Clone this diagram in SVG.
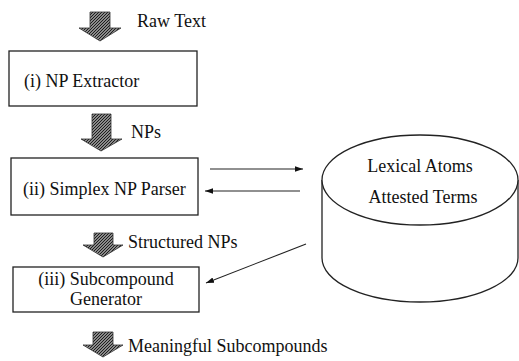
<svg xmlns="http://www.w3.org/2000/svg" width="519" height="361" viewBox="0 0 519 361">
<style>
text{font-family:'Liberation Serif','Times New Roman',Times,serif;font-size:18px;fill:#111}
.box{fill:#fff;stroke:#222;stroke-width:1.3}
.blk{fill:url(#hatch);stroke:#333;stroke-width:0.8}
.con{stroke:#222;stroke-width:1.1;fill:none}
</style>
<defs>
<pattern id="hatch" width="3" height="3" patternUnits="userSpaceOnUse">
<rect width="3" height="3" fill="#8a8a8a"/>
<path d="M0,3 L3,0 M-1,1 L1,-1 M2,4 L4,2" stroke="#111" stroke-width="0.9"/>
</pattern>
<marker id="ah" viewBox="0 0 10 10" refX="10" refY="5" markerWidth="8" markerHeight="8" markerUnits="userSpaceOnUse" orient="auto">
<path d="M0,1.5 L10,5 L0,8.5 Z" fill="#111"/>
</marker>
</defs>
<g id="flow1">
<path class="blk" d="M90,12 H110 V28 H121 L100,41 L79,28 H90 Z"/>
<text x="137" y="27" font-family="Liberation Serif, serif">Raw Text</text>
</g>
<g id="n1">
<rect class="box" x="9" y="51" width="188" height="55"/>
<text x="24" y="87">(i) NP Extractor</text>
</g>
<g id="flow2">
<path class="blk" d="M92,114 H111 V139 H122 L101,151 L81,139 H92 Z"/>
<text x="131" y="138">NPs</text>
</g>
<g id="n2">
<rect class="box" x="11" y="158" width="187" height="57"/>
<text x="23" y="195">(ii) Simplex NP Parser</text>
</g>
<g id="flow3">
<path class="blk" d="M94,233 H113 V245 H123 L103,257 L83,245 H94 Z"/>
<text x="128" y="248">Structured NPs</text>
</g>
<g id="n3">
<rect class="box" x="13" y="267" width="186" height="45"/>
<text x="106" y="285" text-anchor="middle">(iii) Subcompound</text>
<text x="106" y="305" text-anchor="middle">Generator</text>
</g>
<g id="flow4">
<path class="blk" d="M93,332 H113 V345 H123 L103,357 L83,345 H93 Z"/>
<text x="128" y="352">Meaningful Subcompounds</text>
</g>
<g id="db">
<path class="box" d="M322,180 V258 A98,44 0 0 0 518,258 V180"/>
<ellipse class="box" cx="420" cy="180" rx="98" ry="45"/>
<text x="420" y="172" text-anchor="middle">Lexical Atoms</text>
<text x="423" y="203" text-anchor="middle">Attested Terms</text>
</g>
<g id="connectors">
<line class="con" x1="210" y1="169" x2="303" y2="169" marker-end="url(#ah)"/>
<line class="con" x1="300" y1="191" x2="205" y2="191" marker-end="url(#ah)"/>
<line class="con" x1="306" y1="244" x2="206" y2="283" marker-end="url(#ah)"/>
</g>
</svg>
